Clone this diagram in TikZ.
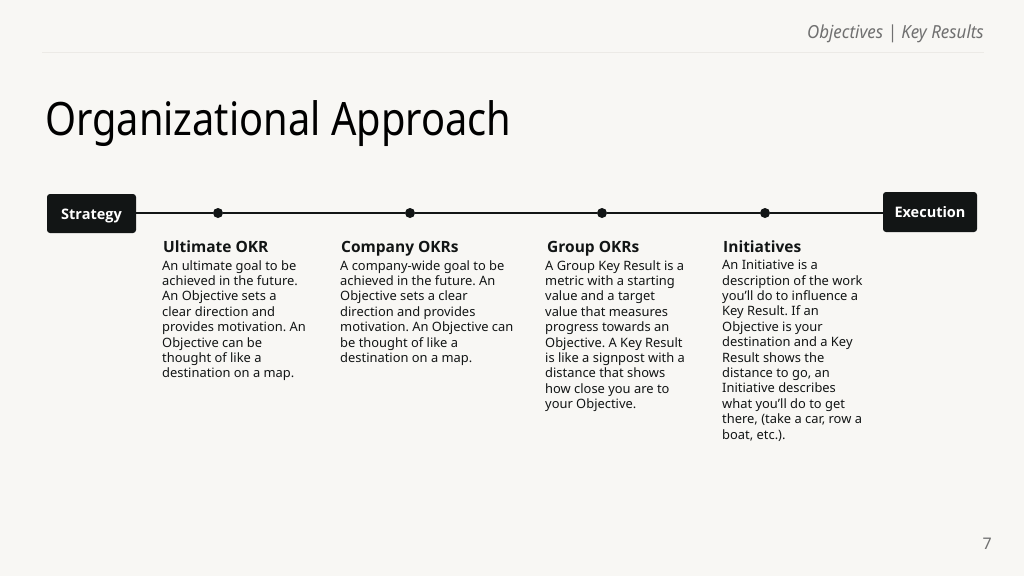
\documentclass[tikz,border=0pt]{standalone}
\usepackage{fontspec}
\setmainfont{Noto Sans}
\newfontfamily\condfont[FakeStretch=0.865]{Noto Sans}
\newfontfamily\hdrfont[FakeStretch=0.94]{Noto Sans}
\newfontfamily\boldfont{Open Sans}
\frenchspacing
\definecolor{bg}{HTML}{F8F7F4}
\definecolor{ink}{HTML}{121515}
\definecolor{hdr}{HTML}{707070}
\definecolor{rule}{HTML}{ECEAE6}
\begin{document}
\begin{tikzpicture}[x=1pt,y=-1pt,
  endbox/.style={fill=ink, rounded corners=3pt, text=white, font=\boldfont\bfseries\fontsize{14.5}{16}\selectfont, inner sep=0pt, text height=11pt, text depth=0pt, align=center},
  dotnode/.style={circle, fill=ink, minimum size=10pt, inner sep=0pt},
  heading/.style={anchor=base west, inner sep=0pt, text=ink, font=\boldfont\bfseries\fontsize{15.5}{18}\selectfont},
  body/.style={anchor=north west, inner sep=0pt, text=ink, align=left, font=\fontsize{12.9}{15.4}\selectfont},
  tline/.style={draw=ink, line width=1.4pt}]
\fill[bg] (0,0) rectangle (1024,576);
\useasboundingbox (0,0) rectangle (1024,576);
\node[anchor=base east, inner sep=0pt, text=hdr, font=\hdrfont\itshape\fontsize{18}{20}\selectfont] (hdr) at (984,38) {Objectives | Key Results};
\coordinate (rl) at (42,52);
\coordinate (rr) at (984,52);
\draw[rule, line width=0.8pt] (rl) -- (rr);
\node[anchor=base west, inner sep=0pt, text=black, font=\condfont\fontsize{46}{50}\selectfont] (title) at (45,135) {Organizational Approach};
\node[endbox, minimum width=89pt, minimum height=39pt] (strat) at (91.5,213.5) {Strategy};
\node[endbox, minimum width=94pt, minimum height=40pt] (exec) at (930,212) {Execution};
\node[dotnode] (d1) at (218,213) {};
\node[dotnode] (d2) at (410,213) {};
\node[dotnode] (d3) at (602,213) {};
\node[dotnode] (d4) at (765,213) {};
\draw[tline] (strat.east |- 0,213) -- (d1) -- (d2) -- (d3) -- (d4) -- (exec.west |- 0,213);
\node[heading] (h1) at (163,252) {Ultimate OKR};
\node[heading] (h2) at (341,252) {Company OKRs};
\node[heading] (h3) at (547,252) {Group OKRs};
\node[heading] (h4) at (723,252) {Initiatives};
\node[body] (b1) at (162,260) {An ultimate goal to be\\achieved in the future.\\An Objective sets a\\clear direction and\\provides motivation. An\\Objective can be\\thought of like a\\destination on a map.};
\node[body] (b2) at (340,260) {A company-wide goal to be\\achieved in the future. An\\Objective sets a clear\\direction and provides\\motivation. An Objective can\\be thought of like a\\destination on a map.};
\node[body] (b3) at (545,260) {A Group Key Result is a\\metric with a starting\\value and a target\\value that measures\\progress towards an\\Objective. A Key Result\\is like a signpost with a\\distance that shows\\how close you are to\\your Objective.};
\node[body] (b4) at (722,260) {An Initiative is a\\description of the work\\you’ll do to influence a\\Key Result. If an\\Objective is your\\destination and a Key\\Result shows the\\distance to go, an\\Initiative describes\\what you’ll do to get\\there, (take a car, row a\\boat, etc.).};
\node[anchor=base east, inner sep=0pt, text=hdr, font=\fontsize{16}{18}\selectfont] (pg) at (992,549) {7};
\end{tikzpicture}
\end{document}
